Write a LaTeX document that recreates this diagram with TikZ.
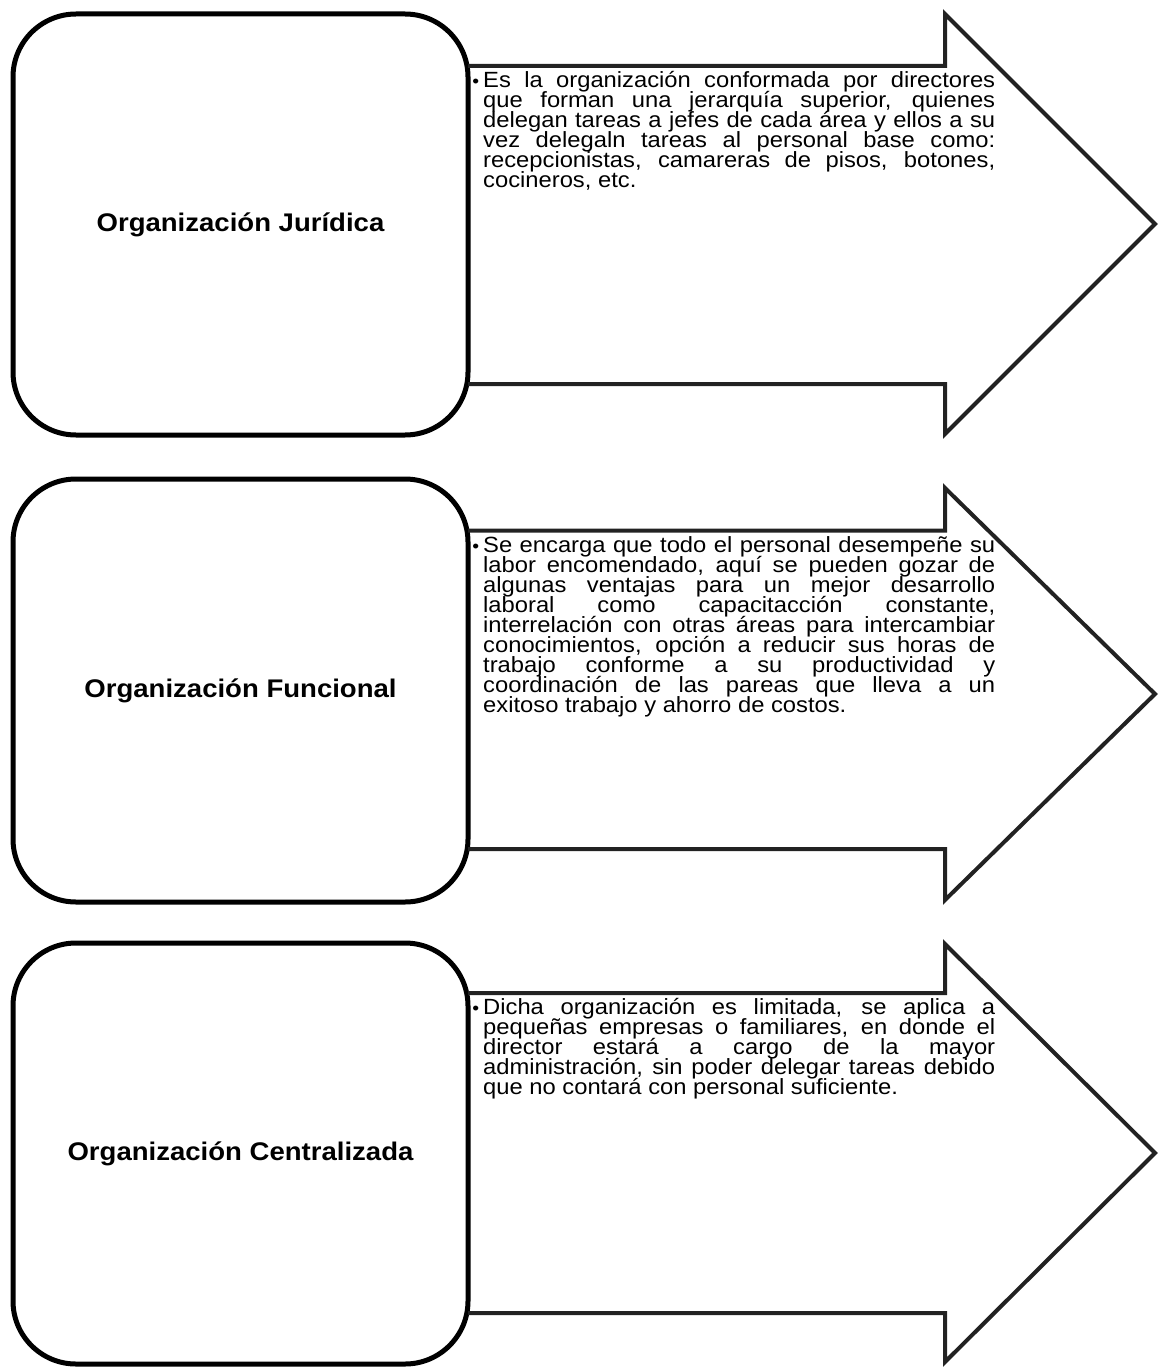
\documentclass[tikz,border=0pt]{standalone}
\usepackage{fontspec}
\setmainfont{Liberation Sans}[FakeStretch=1.08]
\definecolor{arrowgray}{HTML}{222222}
\newcommand{\descsetup}{\fontsize{22}{20}\selectfont\lineskiplimit -100pt\relax\lineskip 0pt\relax\hyphenpenalty 10000\relax\exhyphenpenalty 10000\relax\tolerance 10000\relax}
\newcommand{\titlesetup}{\fontsize{25.5}{28}\selectfont\bfseries}
\newcommand{\bulletstart}{\leavevmode\vrule width 0pt height 16pt\relax\llap{\fontsize{18}{20}\selectfont •\hspace{4pt}}}
\begin{document}
\begin{tikzpicture}[x=1pt,y=-1pt,
  orgbox/.style={draw=black, line width=5pt, rounded corners=63pt, fill=white,
    minimum width=455pt, inner sep=0pt, align=center, font=\titlesetup},
  arrowline/.style={draw=arrowgray, line width=4pt, line join=miter, miter limit=10},
  desc/.style={anchor=north west, inner sep=0pt, text width=512pt, align=justify,
    font=\descsetup}
]
\useasboundingbox (0,0) rectangle (1161,1367);

% Row 1
\node[orgbox, minimum height=421pt] (r1) at (240.5,224.5) {Organización Jurídica};
\draw[arrowline] (468,66) -- (945,66) -- (945,14) -- (1155,224) -- (945,434) -- (945,384) -- (468,384);
\node[desc] (d1) at (483,71) {\bulletstart Es la organización conformada por directores\linebreak
que forman una jerarquía superior, quienes\linebreak
delegan tareas a jefes de cada área y ellos a su\linebreak
vez delegaln tareas al personal base como:\linebreak
recepcionistas, camareras de pisos, botones,\linebreak
cocineros, etc.};

% Row 2
\node[orgbox, minimum height=423pt] (r2) at (240.5,690.5) {Organización Funcional};
\draw[arrowline] (468,530.5) -- (945,530.5) -- (945,488) -- (1155,694) -- (945,900) -- (945,849) -- (468,849);
\node[desc] (d2) at (483,536) {\bulletstart Se encarga que todo el personal desempeñe su\linebreak
labor encomendado, aquí se pueden gozar de\linebreak
algunas ventajas para un mejor desarrollo\linebreak
laboral como capacitacción constante,\linebreak
interrelación con otras áreas para intercambiar\linebreak
conocimientos, opción a reducir sus horas de\linebreak
trabajo conforme a su productividad y\linebreak
coordinación de las pareas que lleva a un\linebreak
exitoso trabajo y ahorro de costos.};

% Row 3
\node[orgbox, minimum height=421pt] (r3) at (240.5,1153.5) {Organización Centralizada};
\draw[arrowline] (468,993) -- (945,993) -- (945,944) -- (1155,1153) -- (945,1362) -- (945,1313) -- (468,1313);
\node[desc] (d3) at (483,998.5) {\bulletstart Dicha organización es limitada, se aplica a\linebreak
pequeñas empresas o familiares, en donde el\linebreak
director estará a cargo de la mayor\linebreak
administración, sin poder delegar tareas debido\linebreak
que no contará con personal suficiente.};
\end{tikzpicture}
\end{document}
